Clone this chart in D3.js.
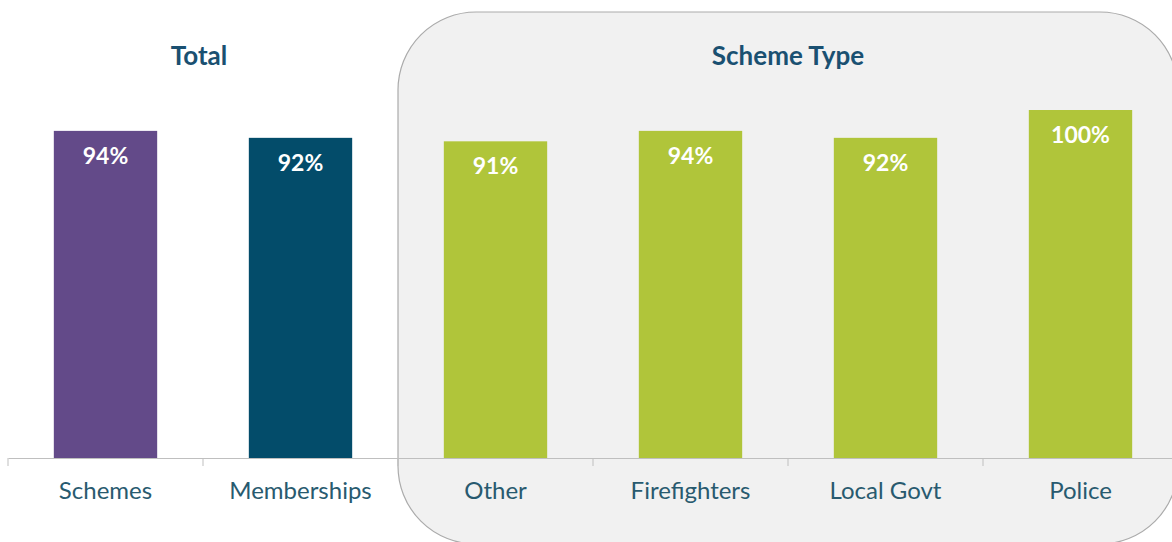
<!DOCTYPE html>
<html>
<head>
<meta charset="utf-8">
<script src="https://cdn.jsdelivr.net/npm/d3@7"></script>
<style>
  body { margin: 0; background: #fff; }
  svg { display: block; font-family: Lato, "Noto Sans", sans-serif; }
</style>
</head>
<body>
<div id="main"></div>
<script>
// data
const categories = ['Schemes', 'Memberships', 'Other', 'Firefighters', 'Local Govt', 'Police'];
const values     = [0.94, 0.92, 0.91, 0.94, 0.92, 1.00];
const groups     = ['Total', 'Total', 'Scheme Type', 'Scheme Type', 'Scheme Type', 'Scheme Type'];
const groupNames = ['Total', 'Scheme Type'];

const data = categories.map((c, i) => ({ cat: c, val: values[i], group: groups[i] }));

const w = 1172, h = 542;
const baseY = 458;

const x = d3.scaleBand()
    .domain(categories)
    .range([8, 1178])
    .paddingInner(0.47)
    .paddingOuter(0.235);

const y = d3.scaleLinear()
    .domain([0, 1])
    .range([baseY, 110]);

// colours per category
const color = d3.scaleOrdinal()
    .domain(categories)
    .range(['#634a89', '#034c6a', '#b0c53a', '#b0c53a', '#b0c53a', '#b0c53a']);

const svg = d3.select('#main')
    .append('svg')
    .attr('width', w)
    .attr('height', h);

// grey rounded panel behind the "Scheme Type" group
const schemeCats = categories.filter((c, i) => groups[i] === 'Scheme Type');
const gap = x.step() - x.bandwidth();
const panelX0 = x(schemeCats[0]) - gap / 2;
svg.append('rect')
    .attr('x', panelX0)
    .attr('y', 12)
    .attr('width', 1178 - panelX0)
    .attr('height', 532)
    .attr('rx', 78)
    .attr('fill', '#f1f1f1')
    .attr('stroke', '#ababab')
    .attr('stroke-width', 1.2);

// bars
svg.selectAll('rect.bar')
    .data(data)
    .enter()
    .append('rect')
    .attr('class', 'bar')
    .attr('x', d => x(d.cat))
    .attr('y', d => y(d.val))
    .attr('width', x.bandwidth())
    .attr('height', d => baseY - y(d.val))
    .attr('fill', d => color(d.cat));

// value labels inside the bars
svg.selectAll('text.val')
    .data(data)
    .enter()
    .append('text')
    .attr('class', 'val')
    .attr('x', d => x(d.cat) + x.bandwidth() / 2)
    .attr('y', d => y(d.val) + 33)
    .attr('text-anchor', 'middle')
    .attr('fill', '#ffffff')
    .attr('font-weight', 'bold')
    .attr('font-size', 23)
    .text(d => d3.format('.0%')(d.val));

// x axis: line + labels
const xAxis = d3.axisBottom(x).tickSize(0).tickPadding(24);
const gx = svg.append('g')
    .attr('transform', 'translate(0,' + baseY + ')')
    .call(xAxis);
gx.select('.domain').attr('stroke', '#bfbfbf').attr('stroke-width', 1);
gx.selectAll('text')
    .attr('font-size', 24)
    .attr('fill', '#285a6f')
    .attr('font-family', 'Lato, "Noto Sans", sans-serif');

// boundary ticks between categories
const bounds = categories.map(c => x(c) - gap / 2).concat([x(categories[categories.length - 1]) + x.bandwidth() + gap / 2]);
svg.selectAll('line.tick')
    .data(bounds)
    .enter()
    .append('line')
    .attr('class', 'tick')
    .attr('x1', d => d)
    .attr('x2', d => d)
    .attr('y1', baseY)
    .attr('y2', baseY + 8)
    .attr('stroke', '#bfbfbf');

// group titles
svg.selectAll('text.group')
    .data(groupNames)
    .enter()
    .append('text')
    .attr('class', 'group')
    .attr('x', g => {
        const cs = categories.filter((c, i) => groups[i] === g);
        return (x(cs[0]) + x(cs[cs.length - 1]) + x.bandwidth()) / 2 - (g === 'Total' ? 4 : 0);
    })
    .attr('y', 65)
    .attr('text-anchor', 'middle')
    .attr('font-weight', 'bold')
    .attr('font-size', 26)
    .attr('fill', '#1a5071')
    .text(g => g);
</script>
</body>
</html>
